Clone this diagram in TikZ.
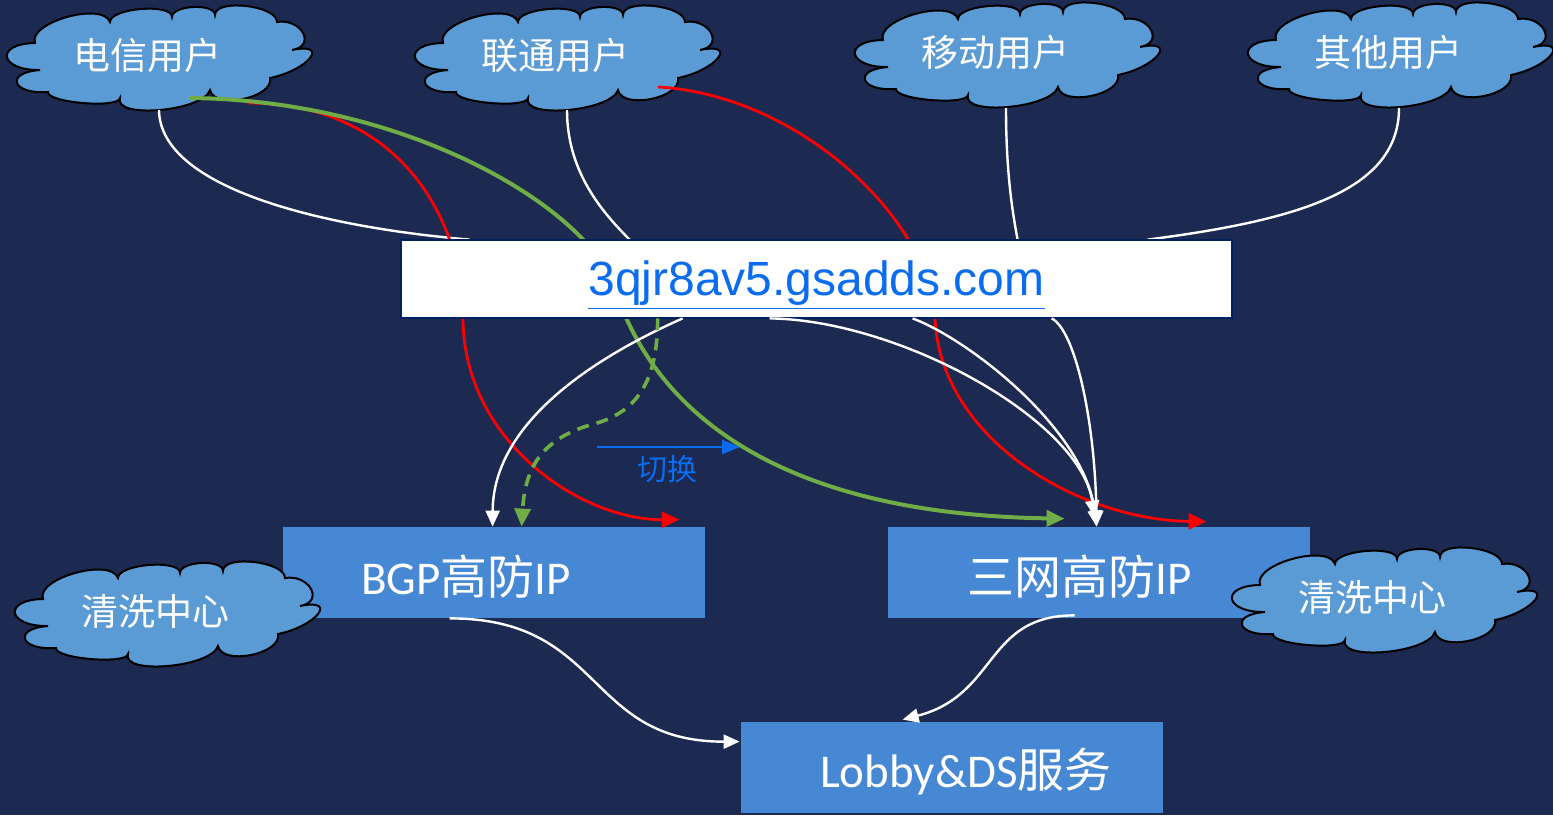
\documentclass[tikz,border=0pt]{standalone}
\usepackage{fontspec}
\setmainfont{Carlito}
\newfontfamily\cjk{Noto Sans CJK SC}
\newfontfamily\arialf{Liberation Sans}
\usetikzlibrary{arrows.meta,calc}
\definecolor{bgc}{RGB}{28,41,81}
\definecolor{cloudblue}{RGB}{91,155,213}
\definecolor{boxblue}{RGB}{70,136,212}
\definecolor{linkblue}{RGB}{10,108,240}
\definecolor{swblue}{RGB}{10,108,240}
\definecolor{gline}{RGB}{112,173,71}
\definecolor{domborder}{RGB}{0,32,96}
\newcommand\zh[1]{{\cjk #1}}
\tikzset{
  cloudpic/.pic={
    \draw[black, line width=1pt, fill=cloudblue, line join=miter]
      (-123,-16) .. controls (-130.3,-36.7) and (-55.3,-57.7) .. (-48,-37)
      .. controls (-48,-51) and (14,-56) .. (14,-42)
      .. controls (14,-54) and (57,-56) .. (57,-44)
      .. controls (57,-60.7) and (119,-53.7) .. (119,-37)
      .. controls (143.7,-41) and (158.7,-13) .. (134,-9)
      .. controls (172.7,-17) and (150.7,11) .. (112,19)
      .. controls (116,39) and (56,51) .. (52,31)
      .. controls (45.3,52.3) and (-44.7,60.3) .. (-38,39)
      .. controls (-39.3,49.7) and (-111.3,43.7) .. (-110,33)
      .. controls (-146,35.7) and (-154,13.7) .. (-118,11)
      .. controls (-158.7,11.7) and (-163.7,-15.3) .. cycle;
  },
  cloudn/.style={rectangle, minimum width=151pt, minimum height=51pt, inner sep=0pt},
  ctext/.style={text=white, font=\cjk\fontsize{18.5}{21}\selectfont, xshift=-5.5pt, yshift=2pt},
  boxn/.style={rectangle, fill=boxblue, minimum width=211pt, minimum height=45.5pt, inner sep=0pt},
  btext/.style={text=white, font=\fontsize{23.5}{28}\selectfont, yshift=-2pt},
  wl/.style={white, line width=1.2pt},
  wa/.style={white, line width=1.2pt, -{Triangle[length=8pt,width=7pt]}},
  rl/.style={red, line width=1.4pt, -{Triangle[length=9pt,width=8pt]}},
  gl/.style={gline, line width=2pt, -{Triangle[length=9pt,width=8pt]}},
  gd/.style={gline, line width=1.8pt, dash pattern=on 6pt off 4pt, -{Triangle[length=9pt,width=8pt]}},
  ba/.style={swblue, line width=1.2pt, -{Triangle[length=9pt,width=7pt]}}
}
\begin{document}
\begin{tikzpicture}[x=0.5pt,y=-0.5pt]
\fill[bgc] (0,0) rectangle (1553,815);
\useasboundingbox (0,0) rectangle (1553,815);

% boxes
\node[boxn, label={[btext, xshift=-14pt]center:BGP\zh{高防}IP}] (bgp) at (494,572.5) {};
\node[boxn, label={[btext, xshift=-9.5pt]center:\zh{三网高防}IP}] (sw) at (1099,572.5) {};
\node[boxn, label={[btext, xshift=7pt]center:Lobby\&DS\zh{服务}}] (lobby) at (952,767.5) {};

% clouds
\pic at (166,615) {cloudpic};
\node[cloudn, label={[ctext]center:清洗中心}] (q1) at (166,615) {};
\pic at (1383,601) {cloudpic};
\node[cloudn, label={[ctext]center:清洗中心}] (q2) at (1383,601) {};
\pic at (158,59) {cloudpic};
\node[cloudn, label={[ctext]center:电信用户}] (c1) at (158,59) {};
\pic at (566,59) {cloudpic};
\node[cloudn, label={[ctext]center:联通用户}] (c2) at (566,59) {};
\pic at (1006,56) {cloudpic};
\node[cloudn, label={[ctext]center:移动用户}] (c3) at (1006,56) {};
\pic at (1399,56) {cloudpic};
\node[cloudn, label={[ctext]center:其他用户}] (c4) at (1399,56) {};

% domain box placeholder for anchors
\path (816.5,279) node[rectangle, minimum width=415.5pt, minimum height=39pt, inner sep=0pt] (dom) {};

% lines from clouds to domain
\draw[wl] ($(c1.center)+(1,51)$) .. controls (160,190) and (330,228) .. ($(dom.north west)+(69,0)$);
\draw[wl] ($(c2.center)+(1,51)$) .. controls (567,170) and (600,210) .. ($(dom.north west)+(229,0)$);
\draw[wl] ($(c3.center)+(0,52)$) .. controls (1006,170) and (1012,210) .. ($(dom.north west)+(617,0)$);
\draw[wl] ($(c4.center)+(0,52)$) .. controls (1399,190) and (1300,220) .. ($(dom.north west)+(747,0)$);

% red lines
\draw[rl] ($(c1.center)+(90,44)$) .. controls (400,103) and (463,220) .. (463,318)
  .. controls (463,440) and (580,520) .. ($(bgp.north west)+(397,-7)$);
\draw[rl] ($(c2.center)+(92,28)$) .. controls (800,95) and (930,220) .. (935,318)
  .. controls (940,440) and (1080,520) .. ($(sw.north west)+(319,-5)$);

% green solid
\draw[gl] ($(c1.center)+(32,39)$) .. controls (400,100) and (575,200) .. (612,280)
  .. controls (660,440) and (820,515) .. ($(sw.north west)+(177,-8)$);

% domain box
\node[rectangle, draw=domborder, line width=0.8pt, fill=white, minimum width=415.5pt,
  minimum height=39pt, inner sep=0pt] (domb) at (dom.center) {};
\node[text=linkblue, font=\arialf\fontsize{24}{28}\selectfont, yshift=-3pt] (domt) at (dom.center)
  {\underline{3qjr8av5.gsadds.com}};

% domain to BGP
\draw[wa] ($(dom.south west)+(282,0)$) .. controls (600,355) and (493,420) .. ($(bgp.north west)+(210,0)$);
\draw[gd] ($(dom.south west)+(257,0)$) .. controls (658,390) and (630,415) .. (590,425)
  .. controls (540,440) and (525,470) .. ($(bgp.north west)+(239,0)$);

% domain to sanwang
\draw[wa] ($(dom.south west)+(369,0)$) .. controls (900,320) and (1080,420) .. ($(sw.north west)+(207,-10)$);
\draw[wa] ($(dom.south west)+(512,0)$) .. controls (970,340) and (1085,430) .. ($(sw.north west)+(209,0)$);
\draw[wa] ($(dom.south west)+(651,0)$) .. controls (1075,330) and (1095,420) .. ($(sw.north west)+(209,0)$);

% switch arrow
\coordinate (swa) at (597,447);
\coordinate (swb) at (740,447);
\draw[ba] (swa) -- (swb);
\node[text=swblue, font=\cjk\fontsize{15}{18}\selectfont] (swl) at (667,469) {切换};

% to lobby
\draw[wa] ($(bgp.south west)+(167,0)$) .. controls (605,618) and (585,742) .. ($(lobby.north west)+(-1,20)$);
\draw[wa] ($(sw.south west)+(187,-3)$) .. controls (985,615) and (998,695) .. ($(lobby.north west)+(162,-2)$);
\end{tikzpicture}
\end{document}
